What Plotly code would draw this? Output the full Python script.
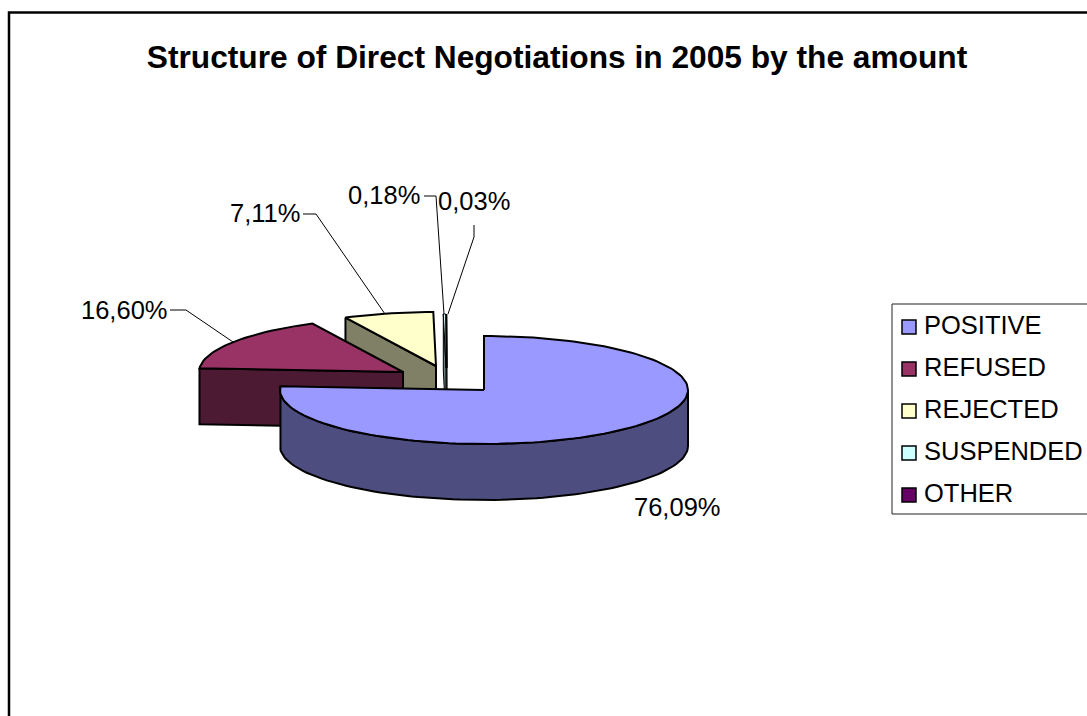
import math
import plotly.graph_objects as go

# --- data ---
categories = ["POSITIVE", "REFUSED", "REJECTED", "SUSPENDED", "OTHER"]
shares = [76.09, 16.60, 7.11, 0.18, 0.03]

# --- styling / layout ---
top_colors = ["#9999FF", "#993366", "#FFFFCC", "#CCFFFF", "#660066"]
wall_colors = ["#4D4D80", "#4D1A33", "#808066", "#668080", "#330033"]
apex_x = [484, 403, 436, 446, 447]
apex_y = [390, 372, 366, 368, 368]
line_w = [2, 2, 2, 1, 1]
RX, RY, DEPTH = 204, 54, 56
label_xy = [(677, 507), (124, 310), (265, 213), (384, 195), (474, 201)]
leaders = [None,
           [(170, 310), (186, 310), (233, 342)],
           [(303, 214), (316, 214), (385, 314)],
           [(424, 196), (436, 196), (444, 314)],
           [(474, 225), (474, 237), (448, 314)]]
FONT = "Liberation Sans, Arial, sans-serif"
FS = 25.5

total = sum(shares)
starts = []
acc = 0.0
for s in shares:
    starts.append(acc)
    acc += s / total * 360.0


def arc(cx, cy, a0, a1, dy=0.0):
    n = max(2, int(abs(a1 - a0) / 2) + 1)
    xs, ys = [], []
    for i in range(n + 1):
        a = math.radians(a0 + (a1 - a0) * i / n)
        xs.append(cx + RX * math.sin(a))
        ys.append(cy - RY * math.cos(a) + dy)
    return xs, ys


fig = go.Figure()


def poly(xs, ys, color, width):
    fig.add_trace(go.Scatter(x=xs, y=ys, mode="lines", fill="toself", fillcolor=color,
                             line=dict(color="black", width=width), hoverinfo="skip",
                             showlegend=False))


# back-to-front: OTHER, SUSPENDED, REJECTED, REFUSED, POSITIVE
for i in [4, 3, 2, 1, 0]:
    cx, cy = apex_x[i], apex_y[i]
    a0 = starts[i]
    a1 = a0 + shares[i] / total * 360.0
    if i == 0:
        # outer rim visible on the front half
        tx, ty = arc(cx, cy, 90, a1)
        bx, by = arc(cx, cy, 270, 90, DEPTH)
        poly(tx + bx + [tx[0]], ty + by + [ty[0]], wall_colors[i], line_w[i])
    else:
        # cut face at the starting radius
        sx = cx + RX * math.sin(math.radians(a0))
        sy = cy - RY * math.cos(math.radians(a0))
        poly([sx, cx, cx, sx, sx], [sy, cy, cy + DEPTH, sy + DEPTH, sy], wall_colors[i], line_w[i])
    ax, ay = arc(cx, cy, a0, a1)
    poly([cx] + ax + [cx], [cy] + ay + [cy], top_colors[i], line_w[i])

# leader lines
for pts in leaders:
    if pts:
        fig.add_trace(go.Scatter(x=[p[0] for p in pts], y=[p[1] for p in pts], mode="lines",
                                 line=dict(color="black", width=1), hoverinfo="skip", showlegend=False))

# legend swatches
LEG_Y0, LEG_DY = 327, 42
fig.add_trace(go.Scatter(
    x=[909] * len(categories), y=[LEG_Y0 + LEG_DY * k for k in range(len(categories))],
    mode="markers", marker=dict(symbol="square", size=14, color=top_colors, line=dict(color="black", width=1.5)),
    hoverinfo="skip", showlegend=False))

annotations = []
for s, (x, y) in zip(shares, label_xy):
    annotations.append(dict(x=x, y=y, xref="x", yref="y", text=f"{s:.2f}%".replace(".", ","),
                            showarrow=False, font=dict(family=FONT, size=FS, color="black")))
for k, c in enumerate(categories):
    annotations.append(dict(x=922, y=LEG_Y0 - 2 + LEG_DY * k, xref="x", yref="y", text=c, xanchor="left",
                            showarrow=False, font=dict(family=FONT, size=FS, color="black")))

shapes = [
    dict(type="rect", xref="x", yref="y", x0=9, y0=12.5, x1=1300, y1=900,
         line=dict(color="black", width=2.5), layer="below"),
    dict(type="rect", xref="x", yref="y", x0=892, y0=304, x1=1300, y1=514,
         line=dict(color="#222222", width=1), layer="below"),
]

fig.update_layout(
    width=1087, height=716, margin=dict(l=0, r=0, t=0, b=0),
    paper_bgcolor="white", plot_bgcolor="white", showlegend=False,
    xaxis=dict(range=[0, 1087], visible=False, fixedrange=True),
    yaxis=dict(range=[716, 0], visible=False, fixedrange=True),
    title=dict(text="<b>Structure of Direct Negotiations in 2005 by the amount</b>",
               x=557 / 1087, xanchor="center", y=1 - 57 / 716, yanchor="middle",
               font=dict(family=FONT, size=31.7, color="black")),
    annotations=annotations, shapes=shapes,
)
fig.write_html("out.html", config={"displayModeBar": False},
               post_script="document.body.style.margin='0';document.body.style.overflow='hidden';")
